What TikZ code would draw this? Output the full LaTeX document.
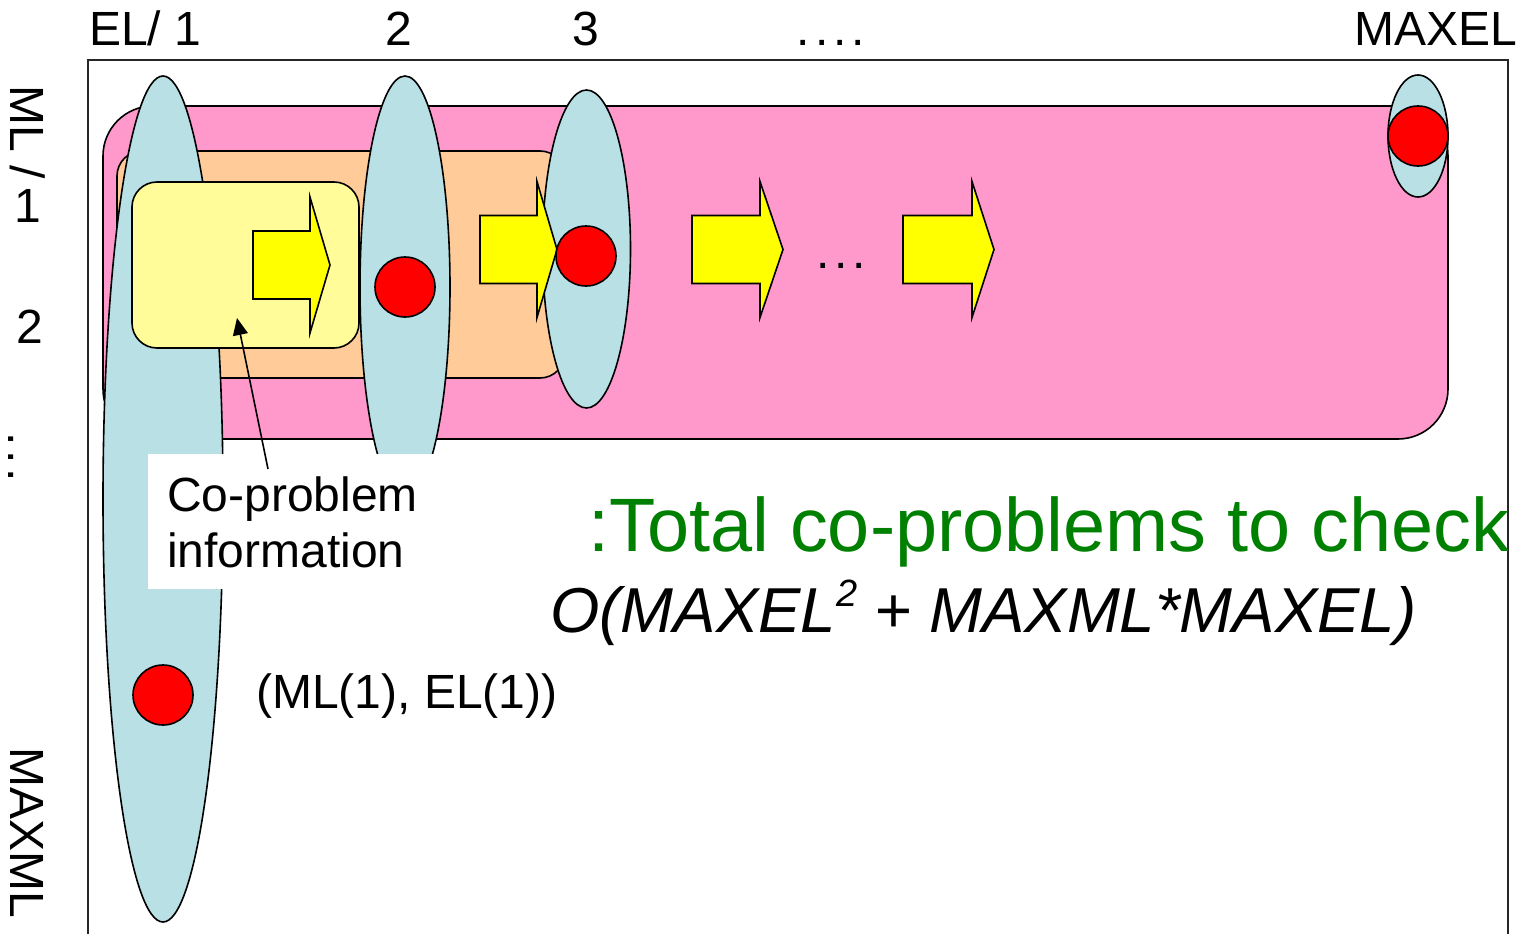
\documentclass[tikz,border=0pt]{standalone}
\usepackage{fontspec}
\setmainfont{Liberation Sans}
\usetikzlibrary{shapes.geometric,arrows.meta}
\definecolor{pinkbg}{HTML}{FF99CC}
\definecolor{peachbg}{HTML}{FFCC99}
\definecolor{lightyel}{HTML}{FFFC99}
\definecolor{blockyel}{HTML}{FFFF00}
\definecolor{lightblue}{RGB}{185,224,228}
\definecolor{dotred}{HTML}{FF0000}
\definecolor{textgreen}{HTML}{008000}
\newcommand\blockarr[4]{% x0, xh, xt, yc
  \draw[outl, fill=blockyel] (#1,#4-34) -- (#2,#4-34) -- (#2,#4-68) -- (#3,#4) -- (#2,#4+68) -- (#2,#4+34) -- (#1,#4+34) -- cycle;}
\begin{document}
\begin{tikzpicture}[x=1pt,y=-1pt,
  outl/.style={draw=black,line width=1.6pt},
  ell/.style={outl,ellipse,fill=lightblue,inner sep=0pt},
  reddot/.style={outl,circle,fill=dotred,minimum size=60pt,inner sep=0pt},
  lbl/.style={inner sep=0pt,font=\fontsize{48}{56}\selectfont},
  vlbl/.style={lbl,rotate=-90,anchor=base west}]
\useasboundingbox (0,0) rectangle (1521,934);
\fill[white] (0,0) rectangle (1521,934);
% frame
\draw[line width=1.8pt,black!85] (88,960) -- (88,60) -- (1508,60) -- (1508,960);
% background rounded boxes
\draw[outl,fill=pinkbg,rounded corners=50pt] (103,106) rectangle (1448,439);
\draw[outl,fill=peachbg,rounded corners=25pt] (117,151) rectangle (565,378);
% column 1 ellipse
\node[ell,minimum width=120pt,minimum height=846pt] (e1) at (163,499) {};
% co-problem box
\draw[outl,fill=lightyel,rounded corners=25pt] (132,182) rectangle (359,348);
% other ellipses
\node[ell,minimum width=90pt,minimum height=422pt] (e2) at (405,287) {};
\node[ell,minimum width=88pt,minimum height=318pt] (e3) at (586.5,249) {};
\node[ell,minimum width=60pt,minimum height=122pt] (e4) at (1418,136) {};
% block arrows
\blockarr{253}{310}{330}{265}
\blockarr{480}{537}{557}{249.5}
\blockarr{692}{760}{783}{249.5}
\blockarr{903}{972}{994}{249.5}
\node[lbl,anchor=base] (mdots) at (841,268) {.\kern5pt.\kern5pt.};
% red dots
\node[reddot] (r2) at (405,287) {};
\node[reddot] (r3) at (586,256) {};
\node[reddot] (rmax) at (1418,136) {};
\node[reddot] (r11) at (163,695) {};
% info label
\node[fill=white,inner sep=0pt,minimum width=332pt,minimum height=135pt,anchor=north west] (infobox) at (148,454) {};
\node[lbl,anchor=north west,align=left] (info) at (167,477) {Co-problem\\information};
\coordinate (tail) at (268,469);
\coordinate (tip) at (237,318);
\draw[line width=1.6pt,-{Triangle[length=17pt,width=15pt]}] (tail) -- (tip);
\node[lbl,anchor=base west] (r11lbl) at (256,708) {(ML(1), EL(1))};
% top labels
\node[lbl,anchor=base west] (el1) at (89,46) {EL/ 1};
\node[lbl,anchor=base] (el2) at (399,46) {2};
\node[lbl,anchor=base] (el3) at (586,46) {3};
\node[lbl,anchor=base] (eldots) at (831,46) {.\kern5pt.\kern5pt.\kern5pt.};
\node[lbl,anchor=base west] (elmax) at (1354,46) {MAXEL};
% left labels
\node[vlbl] (ml) at (10,85) {ML /};
\node[lbl,anchor=base] (ml1) at (28,222) {1};
\node[lbl,anchor=base] (ml2) at (30,343) {2};
\node[vlbl] (mldots) at (9,432) {.\kern5pt.\kern5pt.};
\node[vlbl] (mlmax) at (10,747) {MAXML};
% totals
\node[inner sep=0pt,anchor=base west,text=textgreen,font=\fontsize{75.7}{80}\selectfont] (total) at (588,551) {:Total co-problems to check};
\node[inner sep=0pt,anchor=base west,font=\fontsize{63.5}{70}\selectfont\itshape] (formula) at (550,632) {O(MAXEL\raisebox{0.40em}{\fontsize{38}{38}\selectfont 2} + MAXML*MAXEL)};
\end{tikzpicture}
\end{document}
